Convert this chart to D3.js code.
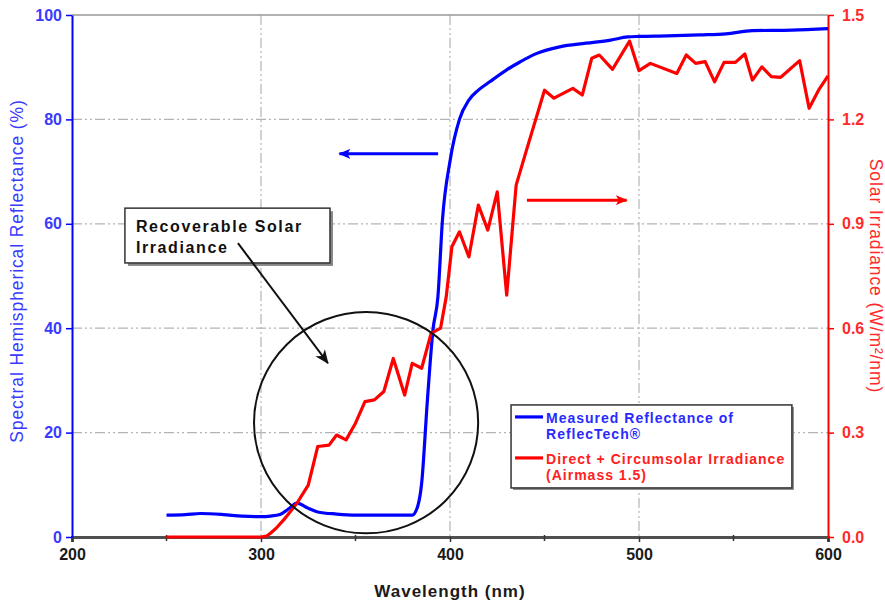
<!DOCTYPE html>
<html>
<head>
<meta charset="utf-8">
<script src="https://cdn.jsdelivr.net/npm/d3@7"></script>
<style>
  html, body { margin: 0; padding: 0; background: #fff; }
  svg { display: block; font-family: "Liberation Sans", Arial, sans-serif; }
</style>
</head>
<body>
<svg id="chart" width="885" height="604"></svg>
<script>
// ---------------- DATA ----------------
const reflWavelength = [250,260,268,280,290,300,305,310,315,319,325,330,340,350,360,370,380,383,385,388,391,393.6,396,400,405,410,415,421,430,437,445,458,472,485,494,500,515,532,546,560,581,600];
const reflValue      = [4.2,4.3,4.5,4.3,4.0,3.9,4.0,4.3,5.5,6.5,5.5,4.8,4.4,4.2,4.2,4.2,4.2,6.0,10.3,26,39.7,46,60.7,72,80,83.7,85.6,87.2,89.5,91,92.5,93.9,94.6,95.2,95.8,95.9,96.0,96.2,96.4,97.0,97.1,97.4];

const irrWavelength = [250,300,303,305,308,312,319,325,330,336,340,345,350,355,360,365,370,376,380,385,390,395,398,401,405,410,415,420,425,430,435,440,450,455,465,470,475,479,486,495,500,506,520,525,530,535,540,545,551,556,560,565,570,575,585,590,595,600];
const irrValue      = [0,0,0.003,0.011,0.025,0.049,0.097,0.149,0.26,0.264,0.293,0.279,0.327,0.389,0.394,0.418,0.513,0.408,0.499,0.485,0.585,0.6,0.69,0.834,0.877,0.805,0.954,0.882,0.992,0.695,1.011,1.103,1.284,1.261,1.289,1.27,1.376,1.385,1.344,1.425,1.34,1.361,1.332,1.385,1.361,1.366,1.308,1.364,1.364,1.388,1.313,1.351,1.323,1.321,1.369,1.232,1.284,1.325];

const xTicks = [200,300,400,500,600];
const xMinorTicks = [250,350,450,550];
const leftTicks = [0,20,40,60,80,100];
const rightTicks = [0,0.3,0.6,0.9,1.2,1.5];

const legendLabels = [["Measured Reflectance of","ReflecTech®"],["Direct + Circumsolar Irradiance","(Airmass 1.5)"]];
const calloutLines = ["Recoverable Solar","Irradiance"];

// ---------------- LAYOUT ----------------
const svg = d3.select("#chart");
const L = 72, R = 828, T = 15, B = 537;
const x = d3.scaleLinear().domain([200,600]).range([L,R]);
const yL = d3.scaleLinear().domain([0,100]).range([B,T]);
const yR = d3.scaleLinear().domain([0,1.5]).range([B,T]);

const BLUE = "#0000ff", RED = "#ff0000";

// defs: arrow markers
const defs = svg.append("defs");
function marker(id, color, path, w, h, refX) {
  defs.append("marker").attr("id", id)
    .attr("viewBox", `0 0 ${w} ${h}`).attr("refX", refX).attr("refY", h/2)
    .attr("markerWidth", w).attr("markerHeight", h)
    .attr("markerUnits", "userSpaceOnUse").attr("orient", "auto")
    .append("path").attr("d", path).attr("fill", color);
}
marker("arrBlue", BLUE, "M0,0 L12,5 L0,10 L3,5 Z", 12, 10, 11);
marker("arrRed", RED, "M0,0 L12,5 L0,10 L3,5 Z", 12, 10, 11);
marker("arrBlack", "#111", "M0,0 L14,6 L0,12 L4,6 Z", 14, 12, 13);

// ---------------- GRID ----------------
const grid = svg.append("g").attr("stroke", "#b4b4b4").attr("stroke-width", 1.2)
  .attr("stroke-dasharray", "10,3,2,3,2,3").attr("fill", "none");
grid.selectAll("line.h").data(leftTicks.filter(d => d > 0 && d < 100)).join("line")
  .attr("x1", L).attr("x2", R).attr("y1", d => yL(d)).attr("y2", d => yL(d));
grid.selectAll("line.v").data(xTicks.filter(d => d > 200 && d < 600)).join("line")
  .attr("class","v")
  .attr("x1", d => x(d)).attr("x2", d => x(d)).attr("y1", T).attr("y2", B);
// top frame
svg.append("line").attr("x1", L).attr("x2", R).attr("y1", yL(100)).attr("y2", yL(100))
  .attr("stroke", "#999").attr("stroke-width", 1.5);

// ---------------- AXES ----------------
const gx = svg.append("g").attr("transform", `translate(0,${B})`)
  .call(d3.axisBottom(x).tickValues(xTicks).tickSize(5).tickPadding(7).tickFormat(d3.format("d")));
gx.select(".domain").attr("stroke", "#505050").attr("stroke-width", 3);
gx.selectAll(".tick line").attr("stroke", "#333").attr("stroke-width", 1.5);
gx.selectAll(".tick text").attr("fill", "#1a1a1a").attr("font-size", 16).attr("font-weight", "bold")
  .attr("font-family", '"Liberation Sans", Arial, sans-serif');
svg.append("g").selectAll("line").data(xMinorTicks).join("line")
  .attr("x1", d => x(d)).attr("x2", d => x(d)).attr("y1", B - 2).attr("y2", B + 4)
  .attr("stroke", "#333").attr("stroke-width", 1.5);

const gl = svg.append("g").attr("transform", `translate(${L},0)`)
  .call(d3.axisLeft(yL).tickValues(leftTicks).tickSize(6).tickPadding(4).tickSizeOuter(0));
gl.select(".domain").attr("stroke", BLUE).attr("stroke-width", 2);
gl.selectAll(".tick line").attr("stroke", BLUE).attr("stroke-width", 1.5);
gl.selectAll(".tick text").attr("fill", "#3a3aff").attr("font-size", 16).attr("font-weight", "bold")
  .attr("font-family", '"Liberation Sans", Arial, sans-serif');

const gr = svg.append("g").attr("transform", `translate(${R},0)`)
  .call(d3.axisRight(yR).tickValues(rightTicks).tickSize(6).tickPadding(8).tickSizeOuter(0).tickFormat(d3.format(".1f")));
gr.select(".domain").attr("stroke", RED).attr("stroke-width", 2);
gr.selectAll(".tick line").attr("stroke", RED).attr("stroke-width", 1.5);
gr.selectAll(".tick text").attr("fill", "#ff2a2a").attr("font-size", 16).attr("font-weight", "bold")
  .attr("font-family", '"Liberation Sans", Arial, sans-serif');

// axis titles
svg.append("text").attr("transform", `translate(23,${(T+B)/2 - 5}) rotate(-90)`)
  .attr("text-anchor", "middle").attr("fill", "#3a3aff").attr("font-size", 17.5)
  .attr("letter-spacing", 0.9).text("Spectral Hemispherical Reflectance (%)");
svg.append("text").attr("transform", `translate(870,${(T+B)/2}) rotate(90)`)
  .attr("text-anchor", "middle").attr("fill", "#ff2a2a").attr("font-size", 17.5)
  .attr("letter-spacing", 0.9).text("Solar Irradiance (W/m²/nm)");
svg.append("text").attr("x", x(400)).attr("y", 597).attr("text-anchor", "middle")
  .attr("fill", "#1a1a1a").attr("font-size", 17).attr("font-weight", "bold")
  .attr("letter-spacing", 1).text("Wavelength (nm)");

// ---------------- SERIES ----------------
const reflData = reflWavelength.map((w, i) => [w, reflValue[i]]);
const irrData = irrWavelength.map((w, i) => [w, irrValue[i]]);

svg.append("path").datum(reflData)
  .attr("fill", "none").attr("stroke", BLUE).attr("stroke-width", 3.2).attr("stroke-linejoin", "round")
  .attr("d", d3.line().x(d => x(d[0])).y(d => yL(d[1])).curve(d3.curveMonotoneX));
svg.append("path").datum(irrData)
  .attr("fill", "none").attr("stroke", RED).attr("stroke-width", 3.2).attr("stroke-linejoin", "round")
  .attr("d", d3.line().x(d => x(d[0])).y(d => yR(d[1])));

// ---------------- ANNOTATIONS ----------------
const circ = {wl: 355.6, refl: 21.9, rWl: 59.3, rRefl: 21.2};
svg.append("ellipse")
  .attr("cx", x(circ.wl)).attr("cy", yL(circ.refl))
  .attr("rx", x(circ.wl + circ.rWl) - x(circ.wl)).attr("ry", yL(0) - yL(circ.rRefl))
  .attr("fill", "none").attr("stroke", "#111").attr("stroke-width", 2);

svg.append("line").attr("x1", x(393.7)).attr("y1", yL(73.4)).attr("x2", x(341.5)).attr("y2", yL(73.4))
  .attr("stroke", BLUE).attr("stroke-width", 3).attr("marker-end", "url(#arrBlue)");
svg.append("line").attr("x1", x(440.7)).attr("y1", yR(0.968)).attr("x2", x(493.5)).attr("y2", yR(0.968))
  .attr("stroke", RED).attr("stroke-width", 3).attr("marker-end", "url(#arrRed)");

const box = {wl0: 228, wl1: 336.5, r0: 52.5, r1: 63.0};
svg.append("rect").attr("x", x(box.wl0) + 3).attr("y", yL(box.r1) + 3)
  .attr("width", x(box.wl1) - x(box.wl0)).attr("height", yL(box.r0) - yL(box.r1))
  .attr("fill", "#888");
svg.append("rect").attr("x", x(box.wl0)).attr("y", yL(box.r1))
  .attr("width", x(box.wl1) - x(box.wl0)).attr("height", yL(box.r0) - yL(box.r1))
  .attr("fill", "#fff").attr("stroke", "#333").attr("stroke-width", 1.5);
svg.append("g").selectAll("text").data(calloutLines).join("text")
  .attr("x", x(box.wl0) + 11).attr("y", (d, i) => yL(box.r1) + 24 + i * 21)
  .attr("fill", "#111").attr("font-size", 16).attr("font-weight", "bold").attr("letter-spacing", 1.6)
  .text(d => d);

svg.append("line").attr("x1", x(287.8)).attr("y1", yL(56.3)).attr("x2", x(335.4)).attr("y2", yL(33.3))
  .attr("stroke", "#111").attr("stroke-width", 2).attr("marker-end", "url(#arrBlack)");

// ---------------- LEGEND ----------------
const lg = {wl0: 432.3, wl1: 580.9, r0: 9.4, r1: 25.3};
svg.append("rect").attr("x", x(lg.wl0) + 2).attr("y", yL(lg.r1) + 2)
  .attr("width", x(lg.wl1) - x(lg.wl0)).attr("height", yL(lg.r0) - yL(lg.r1)).attr("fill", "#888");
svg.append("rect").attr("x", x(lg.wl0)).attr("y", yL(lg.r1))
  .attr("width", x(lg.wl1) - x(lg.wl0)).attr("height", yL(lg.r0) - yL(lg.r1))
  .attr("fill", "#fff").attr("stroke", "#333").attr("stroke-width", 1.5);
const lx = x(lg.wl0), ly = yL(lg.r1);
const legColors = [BLUE, RED];
const legText = ["#2a2aff", "#ff2020"];
legendLabels.forEach((lines, i) => {
  const y0 = ly + 12 + i * 41;
  svg.append("line").attr("x1", lx + 4).attr("x2", lx + 32).attr("y1", y0).attr("y2", y0)
    .attr("stroke", legColors[i]).attr("stroke-width", 3.2);
  lines.forEach((t, j) => {
    svg.append("text").attr("x", lx + 35).attr("y", y0 + 6 + j * 16)
      .attr("fill", legText[i]).attr("font-size", 14).attr("font-weight", "bold")
      .attr("letter-spacing", 1.0).text(t);
  });
});
</script>
</body>
</html>
